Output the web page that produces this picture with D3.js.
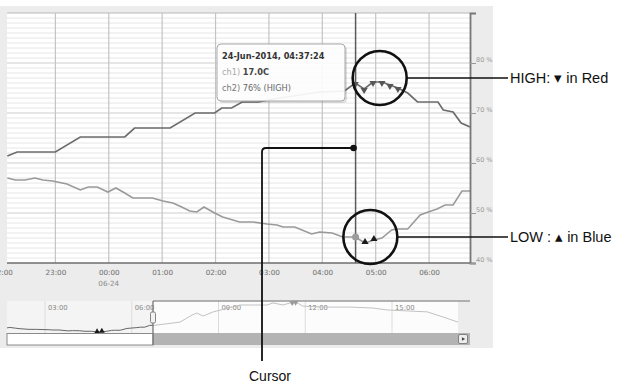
<!DOCTYPE html>
<html>
<head>
<meta charset="utf-8">
<script src="https://cdn.jsdelivr.net/npm/d3@7/dist/d3.min.js"></script>
<style>
  body { margin: 0; background: #fff; }
  svg { display: block; }
</style>
</head>
<body>
<svg id="chart" width="623" height="383"></svg>
<script>
// ch1 = temperature (C), ch2 = humidity (%)
const ch1Times = [
  "2014-06-23 22:06", "2014-06-23 22:15", "2014-06-23 22:26", "2014-06-23 22:37", "2014-06-23 22:46",
  "2014-06-23 22:57", "2014-06-23 23:13", "2014-06-23 23:28", "2014-06-23 23:37", "2014-06-23 23:47",
  "2014-06-23 23:59", "2014-06-24 00:08", "2014-06-24 00:18", "2014-06-24 00:27", "2014-06-24 00:49",
  "2014-06-24 01:01", "2014-06-24 01:12", "2014-06-24 01:22", "2014-06-24 01:31", "2014-06-24 01:39",
  "2014-06-24 01:47", "2014-06-24 01:59", "2014-06-24 02:08", "2014-06-24 02:27", "2014-06-24 02:42",
  "2014-06-24 02:58", "2014-06-24 03:09", "2014-06-24 03:16", "2014-06-24 03:29", "2014-06-24 03:48",
  "2014-06-24 03:57", "2014-06-24 04:11", "2014-06-24 04:23", "2014-06-24 04:37", "2014-06-24 04:48",
  "2014-06-24 04:58", "2014-06-24 05:07", "2014-06-24 05:18", "2014-06-24 05:24", "2014-06-24 05:36",
  "2014-06-24 05:50", "2014-06-24 05:59", "2014-06-24 06:09", "2014-06-24 06:18", "2014-06-24 06:27",
  "2014-06-24 06:37", "2014-06-24 06:46", "2014-06-24 07:40", "2014-06-24 08:05", "2014-06-24 08:15",
  "2014-06-24 08:28", "2014-06-24 08:49", "2014-06-24 09:45", "2014-06-24 10:11", "2014-06-24 10:41",
  "2014-06-24 10:53", "2014-06-24 11:14", "2014-06-24 11:33", "2014-06-24 11:40", "2014-06-24 11:55",
  "2014-06-24 12:37", "2014-06-24 13:33", "2014-06-24 14:20", "2014-06-24 14:50", "2014-06-24 15:31",
  "2014-06-24 16:13", "2014-06-24 16:46", "2014-06-24 17:17"
]
const ch1Values = [
  19.4, 19.32, 19.32, 19.4, 19.32,
  19.28, 19.16, 18.92, 19.04, 19.04,
  18.84, 19.0, 18.8, 18.6, 18.6,
  18.48, 18.4, 18.24, 18.08, 18.04,
  18.24, 18.0, 17.84, 17.64, 17.64,
  17.56, 17.52, 17.44, 17.44, 17.16,
  17.24, 17.2, 17.04, 17.04, 16.8,
  16.92, 17.0, 17.32, 17.36, 17.36,
  17.92, 18.04, 18.16, 18.32, 18.32,
  18.88, 18.88, 19.9, 22.1, 22.75,
  21.8, 23.1, 25.25, 25.25, 25.25,
  25.9, 25.25, 26.1, 26.2, 24.9,
  24.6, 24.6, 24.3, 23.7, 23.4,
  23.1, 21.5, 19.9
]

const ch2Times = [
  "2014-06-23 22:06", "2014-06-23 22:17", "2014-06-23 23:00", "2014-06-23 23:28", "2014-06-24 00:18",
  "2014-06-24 00:29", "2014-06-24 01:09", "2014-06-24 01:37", "2014-06-24 01:59", "2014-06-24 02:07",
  "2014-06-24 02:18", "2014-06-24 02:30", "2014-06-24 02:48", "2014-06-24 03:12", "2014-06-24 03:35",
  "2014-06-24 03:57", "2014-06-24 04:25", "2014-06-24 04:37", "2014-06-24 04:47", "2014-06-24 04:57",
  "2014-06-24 05:07", "2014-06-24 05:16", "2014-06-24 05:25", "2014-06-24 05:36", "2014-06-24 05:47",
  "2014-06-24 06:01", "2014-06-24 06:10", "2014-06-24 06:16", "2014-06-24 06:27", "2014-06-24 06:36",
  "2014-06-24 06:46"
]
const ch2Values = [
  61.4, 62.2, 62.2, 65.2, 65.2,
  67, 67, 70, 70, 71,
  71, 72.2, 72.2, 73, 73.6,
  74.2, 74.4, 76, 74.8, 76.2,
  76.2, 75.6, 75, 74, 72.2,
  72.2, 72.2, 70.6, 70.2, 68,
  67.2
]

// alarm limits
const ch1Low = 17.0
const ch1High = 26.0
const ch2High = 74.5

const hourTicks = ["2014-06-23 22:00", "2014-06-23 23:00", "2014-06-24 00:00", "2014-06-24 01:00",
  "2014-06-24 02:00", "2014-06-24 03:00", "2014-06-24 04:00", "2014-06-24 05:00", "2014-06-24 06:00"]
const navTicks = ["2014-06-24 03:00", "2014-06-24 06:00", "2014-06-24 09:00", "2014-06-24 12:00", "2014-06-24 15:00"]
const percentTicks = [40, 50, 60, 70, 80]

const cursorTime = "2014-06-24 04:37:24"
const tipTitle = "24-Jun-2014, 04:37:24"
const tipCh1 = "17.0C"
const tipCh2 = "76% (HIGH)"

const parse = d3.timeParse("%Y-%m-%d %H:%M")
const parseSec = d3.timeParse("%Y-%m-%d %H:%M:%S")
const ch1 = ch1Times.map((t, i) => ({ t: parse(t), v: ch1Values[i] }))
const ch2 = ch2Times.map((t, i) => ({ t: parse(t), v: ch2Values[i] }))

const svg = d3.select('#chart')
const font = 'DejaVu Sans, Verdana, sans-serif'

// layout of the logger window
const plot = { left: 7, right: 470, top: 13, bottom: 263 }
const nav = { left: 7, right: 458, top: 301, bottom: 333 }

const x = d3.scaleTime()
  .domain([parse("2014-06-23 22:00"), parse("2014-06-24 06:46")])
  .range([2, plot.right])
const yPct = d3.scaleLinear().domain([40, 90]).range([plot.bottom, plot.top])
const yTemp = d3.scaleLinear().domain([16, 26]).range([plot.bottom, plot.top])

const xNav = d3.scaleTime()
  .domain([parse("2014-06-24 01:00"), parse("2014-06-24 18:00")])
  .range([45 - 2 * 28.917, 45 + 15 * 28.917])
const yNav = d3.scaleLinear().domain([16.5, 26.5]).range([nav.bottom, nav.top])

// background of the window
svg.append('rect').attr('x', 0).attr('y', 6).attr('width', 493).attr('height', 342).attr('fill', '#ececec')
svg.append('rect')
  .attr('x', plot.left).attr('y', plot.top)
  .attr('width', plot.right - plot.left).attr('height', plot.bottom - plot.top)
  .attr('fill', '#ffffff')

const defs = svg.append('defs')
defs.append('clipPath').attr('id', 'plot-clip').append('rect')
  .attr('x', plot.left).attr('y', plot.top - 10)
  .attr('width', plot.right - plot.left).attr('height', plot.bottom - plot.top + 20)
defs.append('clipPath').attr('id', 'nav-sel').append('rect')
  .attr('x', nav.left).attr('y', nav.top - 5).attr('width', 153 - nav.left).attr('height', 45)
defs.append('clipPath').attr('id', 'nav-rest').append('rect')
  .attr('x', 153).attr('y', nav.top - 5).attr('width', nav.right - 153).attr('height', 45)

// grid
const grid = svg.append('g')
grid.selectAll('.minor')
  .data(d3.range(41, 90).filter(d => d % 10 !== 0))
  .enter().append('line')
  .attr('x1', plot.left).attr('x2', plot.right)
  .attr('y1', d => yPct(d)).attr('y2', d => yPct(d))
  .attr('stroke', '#e6e6e6').attr('stroke-width', 1)
grid.selectAll('.major')
  .data([50, 60, 70, 80, 90])
  .enter().append('line')
  .attr('x1', plot.left).attr('x2', plot.right)
  .attr('y1', d => yPct(d)).attr('y2', d => yPct(d))
  .attr('stroke', d => d === 90 ? '#b8b8b8' : '#cdcdcd').attr('stroke-width', 1.2)
grid.selectAll('.vert')
  .data(hourTicks.map(parse).filter(d => x(d) > plot.left))
  .enter().append('line')
  .attr('x1', d => x(d)).attr('x2', d => x(d))
  .attr('y1', plot.top).attr('y2', plot.bottom)
  .attr('stroke', '#c4c4c4').attr('stroke-width', 1.2)

// series
const lines = svg.append('g').attr('clip-path', 'url(#plot-clip)')
lines.append('path')
  .datum(ch1)
  .attr('d', d3.line().x(d => x(d.t)).y(d => yTemp(d.v)))
  .attr('fill', 'none').attr('stroke', '#9a9a9a').attr('stroke-width', 1.6)
lines.append('path')
  .datum(ch2)
  .attr('d', d3.line().x(d => x(d.t)).y(d => yPct(d.v)))
  .attr('fill', 'none').attr('stroke', '#6c6c6c').attr('stroke-width', 1.7)

// alarm markers
const tri = d3.symbol().type(d3.symbolTriangle).size(22)
lines.selectAll('.high')
  .data(ch2.filter(d => d.v > ch2High))
  .enter().append('path')
  .attr('d', tri)
  .attr('transform', d => `translate(${x(d.t)},${yPct(d.v) + 1}) rotate(180)`)
  .attr('fill', '#555')
lines.selectAll('.low')
  .data(ch1.filter(d => d.v < ch1Low && x(d.t) < plot.right))
  .enter().append('path')
  .attr('d', tri)
  .attr('transform', d => `translate(${x(d.t)},${yTemp(d.v) - 1})`)
  .attr('fill', '#1a1a1a')

// axes
const tickFmt = d3.timeFormat('%H:%M')
const xAxis = svg.append('g')
  .attr('transform', `translate(0,${plot.bottom})`)
  .call(d3.axisBottom(x).tickValues(hourTicks.map(parse)).tickSize(0).tickFormat(tickFmt))
xAxis.select('.domain').remove()
xAxis.selectAll('text')
  .attr('dy', '1.25em')
  .attr('font-family', font).attr('font-size', 7.2).attr('fill', '#6a6a6a')
svg.append('text')
  .attr('x', x(parse("2014-06-24 00:00"))).attr('y', 286)
  .attr('text-anchor', 'middle')
  .attr('font-family', font).attr('font-size', 7.2).attr('fill', '#8a8a8a')
  .text('06-24')
svg.append('line')
  .attr('x1', plot.left).attr('x2', plot.right)
  .attr('y1', plot.bottom).attr('y2', plot.bottom)
  .attr('stroke', '#6e6e6e').attr('stroke-width', 1.6)

const yAxis = svg.append('g')
  .attr('transform', `translate(${plot.right},0)`)
  .call(d3.axisRight(yPct).tickValues(percentTicks).tickSize(6).tickFormat(d => d + ' %'))
yAxis.select('.domain').attr('stroke', '#777').attr('stroke-width', 1.8)
yAxis.selectAll('.tick line').attr('stroke', '#999')
yAxis.selectAll('text')
  .attr('x', 6).attr('dy', '-0.3em')
  .attr('font-family', font).attr('font-size', 6.5).attr('fill', '#999')

// cursor
const cx = x(parseSec(cursorTime))
svg.append('line')
  .attr('x1', cx).attr('x2', cx)
  .attr('y1', plot.top).attr('y2', plot.bottom)
  .attr('stroke', '#5a5a5a').attr('stroke-width', 1.5)
const cur1 = ch1.find(d => +d.t === +parse("2014-06-24 04:37"))
svg.append('circle')
  .attr('cx', cx).attr('cy', yTemp(cur1.v))
  .attr('r', 3.5).attr('fill', '#9c9c9c')

// tooltip
const tip = svg.append('g').attr('transform', 'translate(217,44)')
tip.append('rect')
  .attr('x', 2).attr('y', 2).attr('width', 128).attr('height', 57).attr('rx', 4)
  .attr('fill', '#000').attr('opacity', 0.12)
tip.append('rect')
  .attr('width', 128).attr('height', 57).attr('rx', 4)
  .attr('fill', '#ffffff').attr('fill-opacity', 0.92)
  .attr('stroke', '#a8a8a8').attr('stroke-width', 1)
tip.append('text')
  .attr('x', 5).attr('y', 15)
  .attr('font-family', font).attr('font-size', 8.2).attr('font-weight', 'bold').attr('fill', '#333')
  .text(tipTitle)
const t1 = tip.append('text').attr('x', 5).attr('y', 31)
  .attr('font-family', font).attr('font-size', 8.2)
t1.append('tspan').attr('fill', '#aaa').text('ch1) ')
t1.append('tspan').attr('fill', '#444').attr('font-weight', 'bold').text(tipCh1)
const t2 = tip.append('text').attr('x', 5).attr('y', 47)
  .attr('font-family', font).attr('font-size', 8.2)
t2.append('tspan').attr('fill', '#777').text('ch2) ')
t2.append('tspan').attr('fill', '#666').text(tipCh2)

// navigator
svg.append('rect')
  .attr('x', nav.left).attr('y', nav.top).attr('width', 153 - nav.left).attr('height', nav.bottom - nav.top)
  .attr('fill', '#f4f4f4')
svg.append('rect')
  .attr('x', 153).attr('y', nav.top).attr('width', nav.right - 153).attr('height', nav.bottom - nav.top)
  .attr('fill', '#fcfcfc')
svg.selectAll('.navgrid')
  .data(navTicks.map(parse))
  .enter().append('line')
  .attr('x1', d => xNav(d)).attr('x2', d => xNav(d))
  .attr('y1', nav.top).attr('y2', nav.bottom)
  .attr('stroke', '#dcdcdc')
svg.selectAll('.navlabel')
  .data(navTicks.map(parse))
  .enter().append('text')
  .attr('x', d => xNav(d) + 3).attr('y', 310)
  .attr('font-family', font).attr('font-size', 6.8).attr('fill', '#888')
  .text(tickFmt)

const navLine = d3.line().x(d => xNav(d.t)).y(d => yNav(d.v))
svg.append('path').datum(ch1)
  .attr('clip-path', 'url(#nav-sel)')
  .attr('d', navLine).attr('fill', 'none').attr('stroke', '#666').attr('stroke-width', 1)
svg.append('path').datum(ch1)
  .attr('clip-path', 'url(#nav-rest)')
  .attr('d', navLine).attr('fill', 'none').attr('stroke', '#c2c2c2').attr('stroke-width', 1)

const triNav = d3.symbol().type(d3.symbolTriangle).size(14)
svg.selectAll('.navlow')
  .data(ch1.filter(d => d.v < ch1Low))
  .enter().append('path')
  .attr('d', triNav)
  .attr('transform', d => `translate(${xNav(d.t)},${yNav(d.v) - 0.5})`)
  .attr('fill', '#1a1a1a')
svg.selectAll('.navhigh')
  .data(ch1.filter(d => d.v > ch1High))
  .enter().append('path')
  .attr('d', triNav)
  .attr('transform', d => `translate(${xNav(d.t)},${yNav(d.v) + 0.5}) rotate(180)`)
  .attr('fill', '#999')

// navigator frame + scrollbar
svg.append('line')
  .attr('x1', 153).attr('x2', 470).attr('y1', nav.top).attr('y2', nav.top)
  .attr('stroke', '#9a9a9a').attr('stroke-width', 1.5)
svg.append('rect')
  .attr('x', 153).attr('y', nav.bottom).attr('width', 470 - 153).attr('height', 12)
  .attr('fill', '#b3b3b3')
svg.append('rect')
  .attr('x', nav.left).attr('y', nav.bottom + 0.5).attr('width', 153 - nav.left).attr('height', 11.5)
  .attr('fill', '#ffffff').attr('stroke', '#8a8a8a').attr('stroke-width', 1)
svg.append('line')
  .attr('x1', 153).attr('x2', 153).attr('y1', nav.top).attr('y2', nav.bottom + 12)
  .attr('stroke', '#777').attr('stroke-width', 1.3)
svg.append('rect')
  .attr('x', 150.5).attr('y', 312).attr('width', 5).attr('height', 11).attr('rx', 1.5)
  .attr('fill', '#f2f2f2').attr('stroke', '#777').attr('stroke-width', 0.9)
svg.append('rect')
  .attr('x', 458.5).attr('y', 334.5).attr('width', 9).attr('height', 9).attr('rx', 1.5)
  .attr('fill', '#ededed').attr('stroke', '#777').attr('stroke-width', 0.9)
svg.append('path')
  .attr('d', d3.symbol().type(d3.symbolTriangle).size(6))
  .attr('transform', 'translate(463,339) rotate(90)')
  .attr('fill', '#444')

// callouts
const ann = svg.append('g')
const annFont = 'Liberation Sans, Arial, Helvetica, sans-serif'
ann.append('circle')
  .attr('cx', x(parse("2014-06-24 05:00")) + 4).attr('cy', yPct(77))
  .attr('r', 27).attr('fill', 'none').attr('stroke', '#111').attr('stroke-width', 2.6)
ann.append('line')
  .attr('x1', x(parse("2014-06-24 05:00")) + 31).attr('x2', 508)
  .attr('y1', yPct(77)).attr('y2', yPct(77))
  .attr('stroke', '#111').attr('stroke-width', 1.6)
ann.append('text')
  .attr('x', 510).attr('y', yPct(77) + 5)
  .attr('font-family', annFont).attr('font-size', 14.5).attr('fill', '#111')
  .text('HIGH: \u25BE in Red')

ann.append('circle')
  .attr('cx', x(parse("2014-06-24 04:54"))).attr('cy', yTemp(17.04))
  .attr('r', 27).attr('fill', 'none').attr('stroke', '#111').attr('stroke-width', 2.6)
ann.append('line')
  .attr('x1', x(parse("2014-06-24 04:54")) + 27).attr('x2', 508)
  .attr('y1', yTemp(17.04)).attr('y2', yTemp(17.04))
  .attr('stroke', '#111').attr('stroke-width', 1.6)
ann.append('text')
  .attr('x', 510).attr('y', yTemp(17.04) + 5)
  .attr('font-family', annFont).attr('font-size', 14.5).attr('fill', '#111')
  .text('LOW : \u25B4 in Blue')

ann.append('circle').attr('cx', cx - 2).attr('cy', 148).attr('r', 3.3).attr('fill', '#111')
ann.append('path')
  .attr('d', `M${cx - 2},148 H266 Q262,148 262,152 V361`)
  .attr('fill', 'none').attr('stroke', '#111').attr('stroke-width', 1.8)
ann.append('text')
  .attr('x', 270).attr('y', 381)
  .attr('text-anchor', 'middle')
  .attr('font-family', annFont).attr('font-size', 14).attr('fill', '#111')
  .text('Cursor')
</script>
</body>
</html>
